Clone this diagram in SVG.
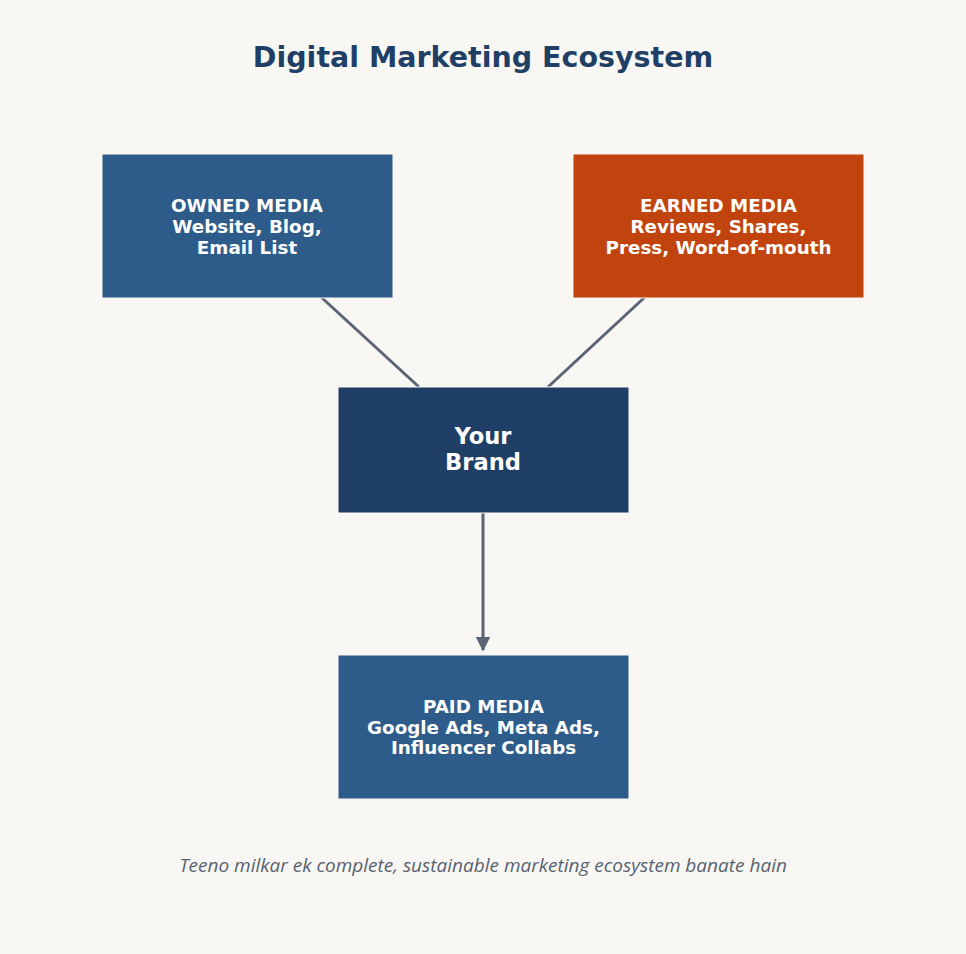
<svg xmlns="http://www.w3.org/2000/svg" width="966" height="954" viewBox="0 0 966 954">
<style>
.box{stroke:#f8f7f4;stroke-width:1}
.lbl{font-family:"DejaVu Sans",sans-serif;font-weight:bold;font-size:18.3px;fill:#ffffff;text-anchor:middle}
.big{font-size:22.6px}
.conn{stroke:#5a6474;stroke-width:3;fill:none}
</style>
<defs>
<marker id="arr" viewBox="0 0 10 10" refX="9" refY="5" markerWidth="5" markerHeight="5" orient="auto" markerUnits="strokeWidth">
<path d="M0,0 L10,5 L0,10 z" fill="#5a6474"/>
</marker>
</defs>
<rect width="966" height="954" fill="#f8f7f4"/>
<text x="483" y="67" text-anchor="middle" font-family="DejaVu Sans, sans-serif" font-weight="bold" font-size="28.5" fill="#1f3f66">Digital Marketing Ecosystem</text>
<g id="connectors">
<line class="conn" x1="321" y1="297" x2="419" y2="387"/>
<line class="conn" x1="645" y1="297" x2="548" y2="387"/>
<line class="conn" x1="483" y1="512" x2="483" y2="650" marker-end="url(#arr)"/>
</g>
<g id="owned">
<rect class="box" x="102" y="154" width="291" height="144" fill="#2d5c8a"/>
<text class="lbl" x="247" y="212">OWNED MEDIA</text>
<text class="lbl" x="247" y="233">Website, Blog,</text>
<text class="lbl" x="247" y="254">Email List</text>
</g>
<g id="earned">
<rect class="box" x="573" y="154" width="291" height="144" fill="#c1440e"/>
<text class="lbl" x="718.5" y="212">EARNED MEDIA</text>
<text class="lbl" x="718.5" y="233">Reviews, Shares,</text>
<text class="lbl" x="718.5" y="254">Press, Word-of-mouth</text>
</g>
<g id="brand">
<rect class="box" x="338" y="387" width="291" height="126" fill="#1f3f66"/>
<text class="lbl big" x="483" y="444">Your</text>
<text class="lbl big" x="483" y="470">Brand</text>
</g>
<g id="paid">
<rect class="box" x="338" y="655" width="291" height="144" fill="#2d5c8a"/>
<text class="lbl" x="483.5" y="713">PAID MEDIA</text>
<text class="lbl" x="483.5" y="734">Google Ads, Meta Ads,</text>
<text class="lbl" x="483.5" y="754">Influencer Collabs</text>
</g>
<text x="483" y="872" text-anchor="middle" font-family="Open Sans, sans-serif" font-style="italic" font-size="19" fill="#5a6270">Teeno milkar ek complete, sustainable marketing ecosystem banate hain</text>
</svg>
